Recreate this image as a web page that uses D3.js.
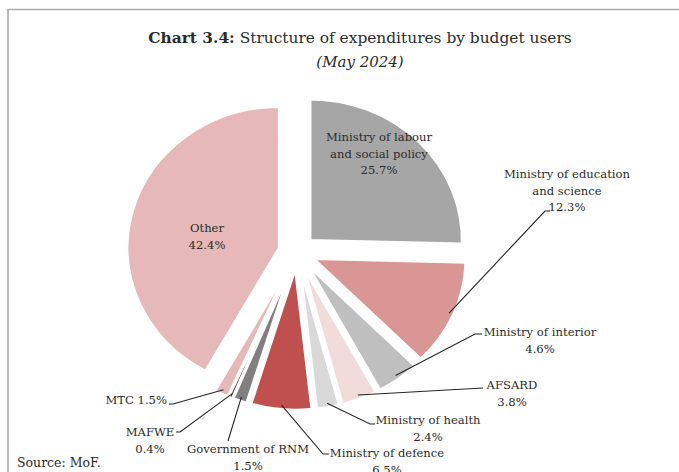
<!DOCTYPE html>
<html>
<head>
<meta charset="utf-8">
<script src="https://cdn.jsdelivr.net/npm/d3@7"></script>
<style>
  body { margin: 0; background: #fff; }
  svg text { font-family: "DejaVu Serif", "Liberation Serif", serif; fill: #2b2b2b; }
</style>
</head>
<body>
<svg id="chart" width="679" height="472"></svg>
<script>
// budget users, clockwise from 12 o'clock
var names = ["Ministry of labour and social policy", "Ministry of education and science",
  "Ministry of interior", "AFSARD", "Ministry of health", "Ministry of defence",
  "Government of RNM", "MAFWE", "MTC", "Other"];
var values = [25.7, 12.3, 4.6, 3.8, 2.4, 6.5, 1.5, 0.4, 1.5, 42.4];
var labelLines = [["Ministry of labour", "and social policy"], ["Ministry of education", "and science"],
  ["Ministry of interior"], ["AFSARD"], ["Ministry of health"], ["Ministry of defence"],
  ["Government of RNM"], ["MAFWE"], [], ["Other"]];

var colours = ["#a6a6a6", "#d99694", "#bfbfbf", "#f2dcdb", "#d9d9d9", "#c0504d",
  "#808080", "#632523", "#e6b9b8", "#e6b9b8"];

// where each label sits, and the bend of its leader line (screen px)
var layout = [
  {x: 379, y: 141, anchor: "middle", leader: null},
  {x: 567, y: 178, anchor: "middle", leader: [[545, 211], [550, 211]]},
  {x: 540, y: 336, anchor: "middle", leader: [[475, 334], [482, 334]]},
  {x: 512, y: 389, anchor: "middle", leader: [[483, 388]]},
  {x: 428, y: 424, anchor: "middle", leader: [[370, 424], [375, 424]]},
  {x: 387, y: 457, anchor: "middle", leader: [[323, 454], [329, 454]]},
  {x: 248, y: 453, anchor: "middle", leader: [[228, 441]]},
  {x: 150, y: 436, anchor: "middle", leader: [[180, 432], [176, 432]]},
  {x: 167, y: 404, anchor: "end", leader: [[173, 404], [169, 404]]},
  {x: 207, y: 232, anchor: "middle", leader: null}
];

var width = 679, height = 472;
var cx = 297, cy = 252, radius = 141, stretch = 1.078, explode = 17;
var lineH = 16.5;

var svg = d3.select("#chart");
var fmt = d3.format(".1f");

// frame
svg.append("path")
  .attr("d", "M8," + height + "V9.5H" + width)
  .attr("fill", "none")
  .attr("stroke", "#ababab")
  .attr("stroke-width", 1.6);

// title
var title = svg.append("text")
  .attr("x", 360).attr("y", 43)
  .attr("text-anchor", "middle")
  .style("font-size", "15.4px");
title.append("tspan").attr("font-weight", "bold").text("Chart 3.4:");
title.append("tspan").text(" Structure of expenditures by budget users");

svg.append("text")
  .attr("x", 360).attr("y", 67)
  .attr("text-anchor", "middle")
  .style("font-size", "15px")
  .style("font-style", "italic")
  .text("(May 2024)");

var pie = d3.pie().sort(null).value(function (d) { return d; });
var arcs = pie(values);
var arc = d3.arc().innerRadius(0).outerRadius(radius);

function mid(d) { return (d.startAngle + d.endAngle) / 2; }

var pieG = svg.append("g")
  .attr("transform", "translate(" + cx + "," + cy + ") scale(" + stretch + ",1)");

pieG.selectAll("path.slice")
  .data(arcs)
  .enter().append("path")
  .attr("class", "slice")
  .attr("d", arc)
  .attr("transform", function (d) {
    var a = mid(d);
    return "translate(" + (Math.sin(a) * explode) + "," + (-Math.cos(a) * explode) + ")";
  })
  .attr("fill", function (d, i) { return colours[i]; })
  .attr("stroke", "#fff")
  .attr("stroke-width", 2.5);

// point on a slice's outer edge, on its bisector, in screen px
function edgePoint(d, k) {
  var a = mid(d);
  var ux = Math.sin(a), uy = -Math.cos(a);
  return [cx + stretch * (ux * explode + ux * radius * k), cy + uy * explode + uy * radius * k];
}

var line = d3.line();
arcs.forEach(function (d, i) {
  var lay = layout[i];
  if (!lay.leader) return;
  var pts = [edgePoint(d, 0.97)].concat(lay.leader);
  svg.append("path")
    .attr("d", line(pts))
    .attr("fill", "none")
    .attr("stroke", "#262626")
    .attr("stroke-width", 1.1);
});

// labels
arcs.forEach(function (d, i) {
  var lay = layout[i];
  var lines = labelLines[i].slice();
  if (lines.length === 0) lines = [names[i] + " " + fmt(values[i]) + "%"];
  else lines.push(fmt(values[i]) + "%");
  var t = svg.append("text")
    .attr("text-anchor", lay.anchor)
    .style("font-size", "11.6px");
  lines.forEach(function (s, j) {
    t.append("tspan").attr("x", lay.x).attr("y", lay.y + j * lineH).text(s);
  });
});

svg.append("text")
  .attr("x", 17).attr("y", 467)
  .style("font-size", "12.5px")
  .text("Source: MoF.");
</script>
</body>
</html>
